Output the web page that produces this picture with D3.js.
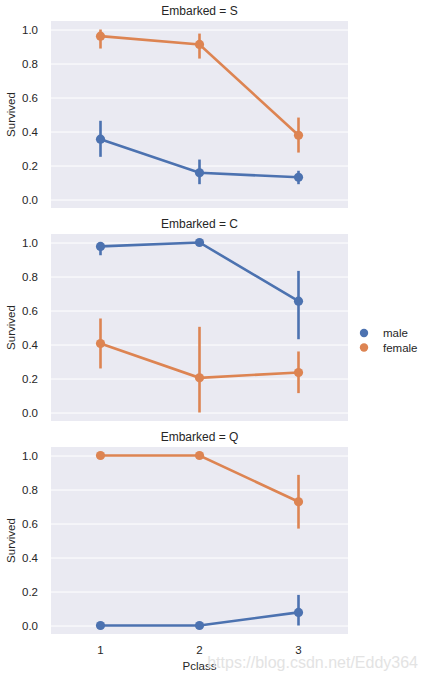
<!DOCTYPE html>
<html>
<head>
<meta charset="utf-8">
<script src="https://cdn.jsdelivr.net/npm/d3@7"></script>
<style>
  body { margin: 0; background: #fff; }
  text { font-family: "Liberation Sans", Arial, sans-serif; fill: #262626; }
</style>
</head>
<body>
<div id="chart"></div>
<script>
// data
const pclasses = [1, 2, 3];
const ports = ["S", "C", "Q"];
const sexes = ["male", "female"];
const yTicks = [0.0, 0.2, 0.4, 0.6, 0.8, 1.0];

const maleS = [0.355, 0.157, 0.131];
const maleSLow = [0.251, 0.09, 0.09];
const maleSHigh = [0.463, 0.235, 0.169];
const femaleS = [0.961, 0.912, 0.378];
const femaleSLow = [0.888, 0.829, 0.276];
const femaleSHigh = [1.0, 0.976, 0.482];

const maleC = [0.977, 1.0, 0.655];
const maleCLow = [0.925, 1.0, 0.431];
const maleCHigh = [1.0, 1.0, 0.833];
const femaleC = [0.406, 0.204, 0.235];
const femaleCLow = [0.259, 0.0, 0.114];
const femaleCHigh = [0.553, 0.504, 0.359];

const maleQ = [0.0, 0.0, 0.077];
const maleQLow = [0.0, 0.0, 0.0];
const maleQHigh = [0.0, 0.0, 0.18];
const femaleQ = [1.0, 1.0, 0.728];
const femaleQLow = [1.0, 1.0, 0.57];
const femaleQHigh = [1.0, 1.0, 0.886];

const colors = { male: "#4c72b0", female: "#dd8452" };

const panels = {
  S: { male: [maleS, maleSLow, maleSHigh], female: [femaleS, femaleSLow, femaleSHigh] },
  C: { male: [maleC, maleCLow, maleCHigh], female: [femaleC, femaleCLow, femaleCHigh] },
  Q: { male: [maleQ, maleQLow, maleQHigh], female: [femaleQ, femaleQLow, femaleQHigh] }
};

const W = 426, H = 679;
const left = 51, right = 348;
const panelH = 187, firstTop = 21, step = 213;
const fs = 11.5;

const svg = d3.select("#chart").append("svg")
  .attr("width", W).attr("height", H);

const x = d3.scaleBand().domain(pclasses).range([left, right]);
const xc = d => x(d) + x.bandwidth() / 2;

ports.forEach((port, i) => {
  const top = firstTop + i * step;
  const y = d3.scaleLinear().domain([-0.05, 1.05]).range([top + panelH, top]);
  const g = svg.append("g");

  g.append("rect")
    .attr("x", left).attr("y", top)
    .attr("width", right - left).attr("height", panelH)
    .attr("fill", "#eaeaf2");

  // y grid + labels
  const yAxis = g.append("g")
    .attr("transform", `translate(${left},0)`)
    .call(d3.axisLeft(y).tickValues(yTicks).tickFormat(d3.format(".1f"))
      .tickSize(-(right - left)).tickPadding(13));
  yAxis.select(".domain").remove();
  yAxis.selectAll("line").attr("stroke", "#fff").attr("stroke-width", 1);
  yAxis.selectAll("text").attr("font-size", fs).attr("fill", "#262626");

  g.append("text")
    .attr("x", (left + right) / 2).attr("y", top - 6)
    .attr("text-anchor", "middle").attr("font-size", 12)
    .text(`Embarked = ${port}`);

  g.append("text")
    .attr("transform", `translate(15,${top + panelH / 2}) rotate(-90)`)
    .attr("text-anchor", "middle").attr("font-size", fs)
    .text("Survived");

  sexes.forEach(sex => {
    const [vals, lo, hi] = panels[port][sex];
    const c = colors[sex];
    const pts = pclasses.map((p, j) => ({ p, v: vals[j], lo: lo[j], hi: hi[j] }));

    g.selectAll(null).data(pts).enter().append("line")
      .attr("x1", d => xc(d.p)).attr("x2", d => xc(d.p))
      .attr("y1", d => y(d.lo)).attr("y2", d => y(d.hi))
      .attr("stroke", c).attr("stroke-width", 2.6);

    g.append("path").datum(pts)
      .attr("fill", "none").attr("stroke", c).attr("stroke-width", 2.6)
      .attr("d", d3.line().x(d => xc(d.p)).y(d => y(d.v)));

    g.selectAll(null).data(pts).enter().append("circle")
      .attr("cx", d => xc(d.p)).attr("cy", d => y(d.v))
      .attr("r", 4.6).attr("fill", c);
  });

  if (i === ports.length - 1) {
    const xAxis = g.append("g")
      .attr("transform", `translate(0,${top + panelH})`)
      .call(d3.axisBottom(x).tickSize(0).tickPadding(12));
    xAxis.select(".domain").remove();
    xAxis.selectAll("text").attr("font-size", fs).attr("fill", "#262626");
  }
});

svg.append("text")
  .attr("x", (left + right) / 2).attr("y", 670)
  .attr("text-anchor", "middle").attr("font-size", fs)
  .text("Pclass");

// legend
const legend = svg.append("g");
sexes.forEach((sex, k) => {
  const ly = 333 + k * 14.5;
  legend.append("circle").attr("cx", 364).attr("cy", ly).attr("r", 4.2).attr("fill", colors[sex]);
  legend.append("text").attr("x", 383).attr("y", ly + 4)
    .attr("font-size", fs).text(sex);
});

// watermark
svg.append("text")
  .attr("x", 418).attr("y", 668)
  .attr("text-anchor", "end").attr("font-size", 16)
  .style("fill", "#e3e3e3")
  .text("https://blog.csdn.net/Eddy364");
</script>
</body>
</html>
